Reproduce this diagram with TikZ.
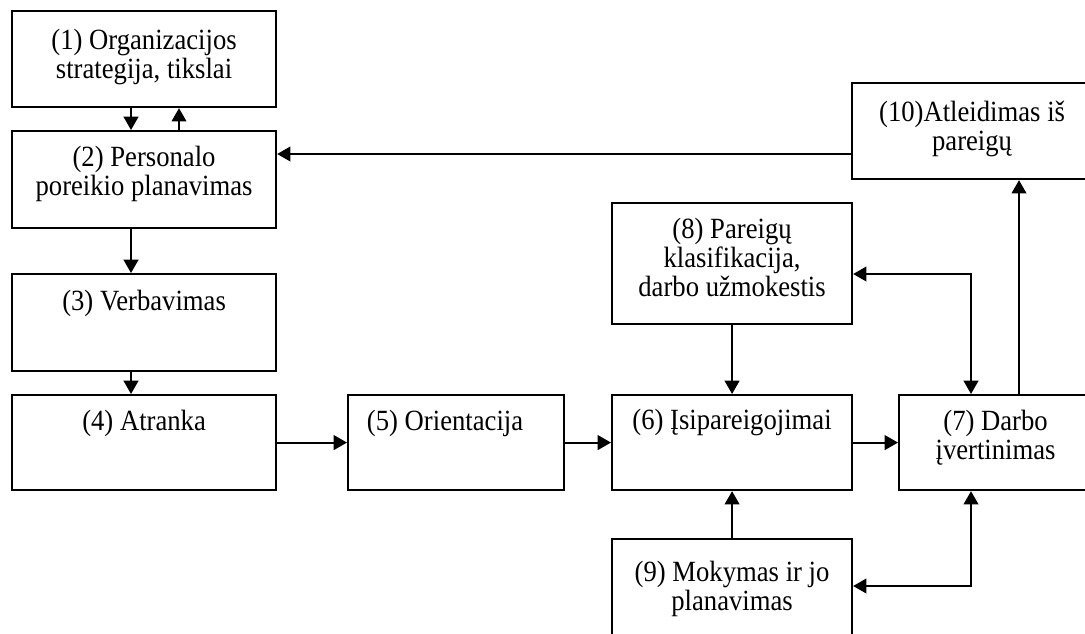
\documentclass[tikz,border=0pt]{standalone}
\usepackage{fontspec}
\setmainfont[FakeStretch=0.909]{Liberation Serif}
\usetikzlibrary{arrows.meta,calc}
\tikzset{
  box/.style 2 args={draw, line width=1.6pt, rectangle, inner sep=0pt, anchor=north west,
    minimum width=#1*0.75pt, minimum height=#2*0.75pt},
  lbl/.style={anchor=base, align=center, inner sep=0pt, font=\fontsize{22}{21.75}\selectfont},
  conn/.style={line width=1.6pt, -{Triangle[length=10pt,width=11pt]}},
  biconn/.style={line width=1.6pt, {Triangle[length=10pt,width=11pt]}-{Triangle[length=10pt,width=11pt]}}
}
\begin{document}
\begin{tikzpicture}[x=0.75pt,y=-0.75pt]
\useasboundingbox (0,0) rectangle (1085,633);
% boxes
\node[box={264}{96}]  (b1)  at (11,10)   {};
\node[box={264}{97}]  (b2)  at (11,130)  {};
\node[box={264}{97}]  (b3)  at (11,273)  {};
\node[box={264}{95}]  (b4)  at (11,394)  {};
\node[box={216}{95}]  (b5)  at (347,394) {};
\node[box={240}{95}]  (b6)  at (611,394) {};
\node[box={193}{95}]  (b7)  at (898,394) {};
\node[box={240}{121}] (b8)  at (611,202) {};
\node[box={240}{120}] (b9)  at (611,538) {};
\node[box={240}{96}]  (b10) at (851,82)  {};
% labels (anchor = baseline of the last line)
\node[lbl] (t1)  at ($(b1.north)+(0,68)$)   {(1) Organizacijos\\strategija, tikslai};
\node[lbl] (t2)  at ($(b2.north)+(0,65)$)   {(2) Personalo\\poreikio planavimas};
\node[lbl] (t3)  at ($(b3.north)+(0,37)$)   {(3) Verbavimas};
\node[lbl] (t4)  at ($(b4.north)+(0,36)$)   {(4) Atranka};
\node[lbl] (t5)  at ($(b5.north)+(-11,36)$) {(5) Orientacija};
\node[lbl] (t6)  at ($(b6.north)+(0,35)$)   {(6) Įsipareigojimai};
\node[lbl] (t7)  at ($(b7.north)+(0,65)$)   {(7) Darbo\\įvertinimas};
\node[lbl] (t8)  at ($(b8.north)+(0,94)$)   {(8) Pareigų\\klasifikacija,\\darbo užmokestis};
\node[lbl] (t9)  at ($(b9.north)+(0,72)$)   {(9) Mokymas ir jo\\planavimas};
\node[lbl] (t10) at ($(b10.north)+(0,68)$)  {(10)Atleidimas iš\\pareigų};
% connectors
\draw[conn] ($(b1.south west)+(120,0)$) -- ($(b2.north west)+(120,0)$);
\draw[conn] ($(b2.north west)+(168,0)$) -- ($(b1.south west)+(168,0)$);
\draw[conn] ($(b10.north west)+(0,72)$) -- ($(b2.north east)+(0,24)$);
\draw[conn] ($(b2.south west)+(120,0)$) -- ($(b3.north west)+(120,0)$);
\draw[conn] ($(b3.south west)+(120,0)$) -- ($(b4.north west)+(120,0)$);
\draw[conn] (b4.east) -- (b5.west);
\draw[conn] (b5.east) -- (b6.west);
\draw[conn] (b6.east) -- (b7.west);
\draw[conn] (b8.south) -- (b6.north);
\draw[conn] (b9.north) -- (b6.south);
\draw[biconn] ($(b7.north west)+(73,0)$) |- ($(b8.north east)+(0,72)$);
\draw[biconn] ($(b7.south west)+(73,0)$) |- ($(b9.north east)+(0,48)$);
\draw[conn] ($(b7.north west)+(121,0)$) -- ($(b10.south west)+(168,0)$);
\end{tikzpicture}
\end{document}
